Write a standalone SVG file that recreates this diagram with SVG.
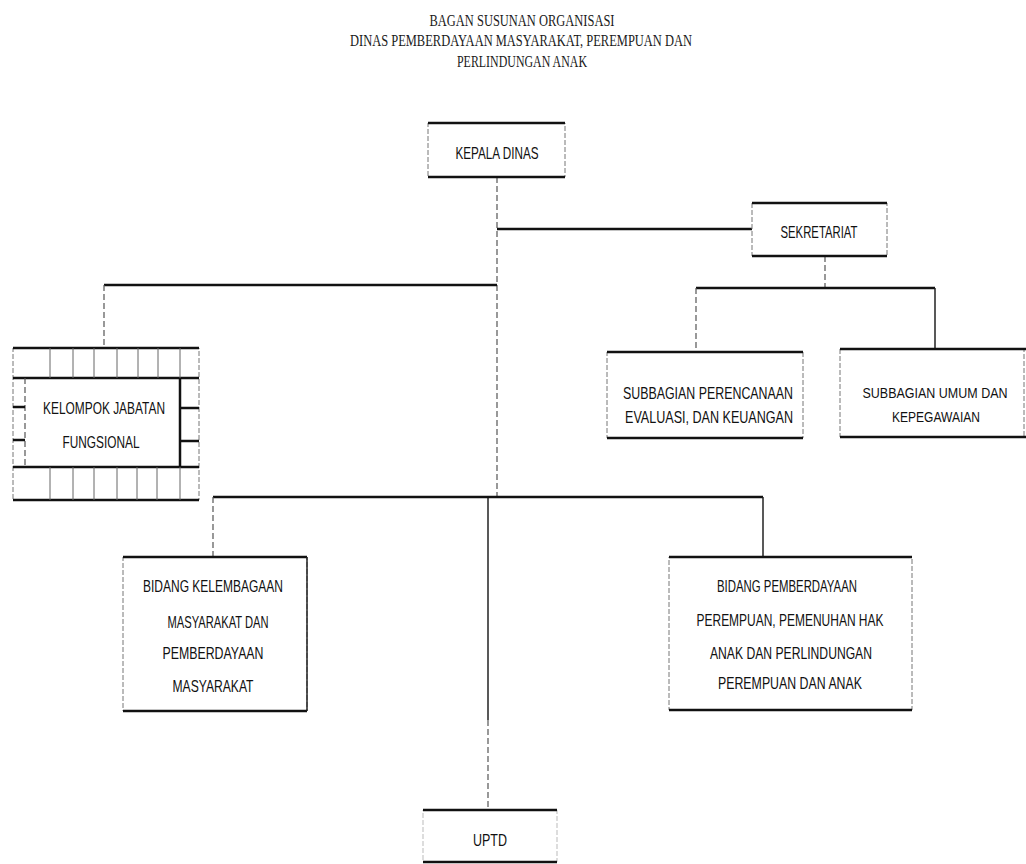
<svg xmlns="http://www.w3.org/2000/svg" width="1026" height="864" viewBox="0 0 1026 864">
<style>
.bg{fill:#fff}
.title{font-family:"Liberation Serif","Times New Roman",serif;font-size:17px;fill:#1a1a1a;text-anchor:middle}
.lbl{font-family:"Liberation Sans Narrow","Liberation Sans",Arial,sans-serif;font-size:17px;fill:#111;text-anchor:middle}
.sm{font-size:14px}
.box{fill:#fff;stroke:#777;stroke-width:1;stroke-dasharray:5 2}
.edge{stroke:#111;stroke-width:2.5;fill:none}
.thick{stroke:#111;stroke-width:2.5;fill:none}
.thin{stroke:#555;stroke-width:1.2;fill:none;stroke-dasharray:6 3}
.solid{stroke:#222;stroke-width:1.5;fill:none}
.cell{stroke:#666;stroke-width:1;fill:none}
</style>
<rect class="bg" x="0" y="0" width="1026" height="864"/>

<g id="title">
<text class="title" x="522" y="26" textLength="185" lengthAdjust="spacingAndGlyphs">BAGAN SUSUNAN ORGANISASI</text>
<text class="title" x="521" y="46" textLength="342" lengthAdjust="spacingAndGlyphs">DINAS PEMBERDAYAAN MASYARAKAT, PEREMPUAN DAN</text>
<text class="title" x="522" y="67" textLength="130" lengthAdjust="spacingAndGlyphs">PERLINDUNGAN ANAK</text>
</g>

<g id="connectors">
<line class="thin" x1="497" y1="177" x2="497" y2="497"/>
<line class="solid" x1="488" y1="497" x2="488" y2="720"/>
<line class="thin" x1="488" y1="720" x2="488" y2="810"/>
<line class="thick" x1="497" y1="229" x2="752" y2="229"/>
<line class="thick" x1="104" y1="285" x2="497" y2="285"/>
<line class="thin" x1="104" y1="285" x2="104" y2="348"/>
<line class="thin" x1="825" y1="256" x2="825" y2="288"/>
<line class="thick" x1="696" y1="288" x2="935" y2="288"/>
<line class="thin" x1="696" y1="288" x2="696" y2="352"/>
<line class="solid" x1="935" y1="288" x2="935" y2="349"/>
<line class="thick" x1="213" y1="497" x2="763" y2="497"/>
<line class="thin" x1="213" y1="497" x2="213" y2="557"/>
<line class="solid" x1="763" y1="497" x2="763" y2="557"/>
</g>

<g id="kepala-dinas">
<rect class="box" x="428" y="123" width="137" height="54"/>
<line class="edge" x1="428" y1="123" x2="565" y2="123"/>
<line class="edge" x1="428" y1="177" x2="565" y2="177"/>
<text class="lbl" x="497" y="159" textLength="83" lengthAdjust="spacingAndGlyphs">KEPALA DINAS</text>
</g>

<g id="sekretariat">
<rect class="box" x="752" y="203" width="135" height="53"/>
<line class="edge" x1="752" y1="203" x2="887" y2="203"/>
<line class="edge" x1="752" y1="256" x2="887" y2="256"/>
<text class="lbl" x="819" y="238" textLength="77" lengthAdjust="spacingAndGlyphs">SEKRETARIAT</text>
</g>

<g id="kelompok-jabatan-fungsional">
<rect class="box" x="13" y="348" width="186" height="152"/>
<line class="edge" x1="13" y1="348" x2="199" y2="348"/>
<line class="edge" x1="13" y1="378" x2="199" y2="378"/>
<line class="edge" x1="13" y1="467" x2="199" y2="467"/>
<line class="edge" x1="13" y1="500" x2="199" y2="500"/>
<line class="edge" x1="180" y1="378" x2="180" y2="467"/>
<line class="thin" x1="25" y1="378" x2="25" y2="467"/>
<path class="cell" d="M50 348V378M73 348V378M94 348V378M117 348V378M138 348V378M158 348V378M180 348V378M50 467V500M73 467V500M94 467V500M117 467V500M137 467V500M157 467V500M180 467V500"/>
<path class="edge" d="M13 407H25M13 440H25M180 408H199M180 441H199"/>
<text class="lbl" x="104" y="414" textLength="122" lengthAdjust="spacingAndGlyphs">KELOMPOK JABATAN</text>
<text class="lbl" x="101" y="448" textLength="77" lengthAdjust="spacingAndGlyphs">FUNGSIONAL</text>
</g>

<g id="subbagian-perencanaan">
<rect class="box" x="607" y="352" width="196" height="86"/>
<line class="edge" x1="607" y1="352" x2="803" y2="352"/>
<line class="edge" x1="607" y1="438" x2="803" y2="438"/>
<text class="lbl" x="708" y="399" textLength="170" lengthAdjust="spacingAndGlyphs">SUBBAGIAN PERENCANAAN</text>
<text class="lbl" x="709" y="423" textLength="168" lengthAdjust="spacingAndGlyphs">EVALUASI, DAN KEUANGAN</text>
</g>

<g id="subbagian-umum">
<rect class="box" x="840" y="349" width="184" height="88"/>
<line class="edge" x1="840" y1="349" x2="1026" y2="349"/>
<line class="edge" x1="840" y1="437" x2="1026" y2="437"/>
<text class="lbl sm" x="935" y="398" textLength="145" lengthAdjust="spacingAndGlyphs">SUBBAGIAN UMUM DAN</text>
<text class="lbl sm" x="936" y="422" textLength="88" lengthAdjust="spacingAndGlyphs">KEPEGAWAIAN</text>
</g>

<g id="bidang-kelembagaan">
<rect class="box" x="123" y="557" width="184" height="154"/>
<line class="edge" x1="123" y1="557" x2="307" y2="557"/>
<line class="edge" x1="123" y1="711" x2="307" y2="711"/>
<line class="solid" x1="307" y1="557" x2="307" y2="711"/>
<text class="lbl" x="213" y="592" textLength="140" lengthAdjust="spacingAndGlyphs">BIDANG KELEMBAGAAN</text>
<text class="lbl" x="218" y="628" textLength="101" lengthAdjust="spacingAndGlyphs">MASYARAKAT DAN</text>
<text class="lbl" x="213" y="659" textLength="101" lengthAdjust="spacingAndGlyphs">PEMBERDAYAAN</text>
<text class="lbl" x="213" y="692" textLength="81" lengthAdjust="spacingAndGlyphs">MASYARAKAT</text>
</g>

<g id="bidang-pemberdayaan">
<rect class="box" x="669" y="557" width="243" height="153"/>
<line class="edge" x1="669" y1="557" x2="912" y2="557"/>
<line class="edge" x1="669" y1="710" x2="912" y2="710"/>
<text class="lbl" x="787" y="592" textLength="140" lengthAdjust="spacingAndGlyphs">BIDANG PEMBERDAYAAN</text>
<text class="lbl" x="790" y="626" textLength="187" lengthAdjust="spacingAndGlyphs">PEREMPUAN, PEMENUHAN HAK</text>
<text class="lbl" x="791" y="659" textLength="162" lengthAdjust="spacingAndGlyphs">ANAK DAN PERLINDUNGAN</text>
<text class="lbl" x="790" y="689" textLength="144" lengthAdjust="spacingAndGlyphs">PEREMPUAN DAN ANAK</text>
</g>

<g id="uptd">
<rect class="box" x="423" y="810" width="134" height="52" style="stroke:#bbb"/>
<line class="edge" x1="423" y1="810" x2="557" y2="810"/>
<line class="edge" x1="423" y1="862" x2="557" y2="862"/>
<text class="lbl" x="490" y="846" textLength="34" lengthAdjust="spacingAndGlyphs">UPTD</text>
</g>
</svg>
